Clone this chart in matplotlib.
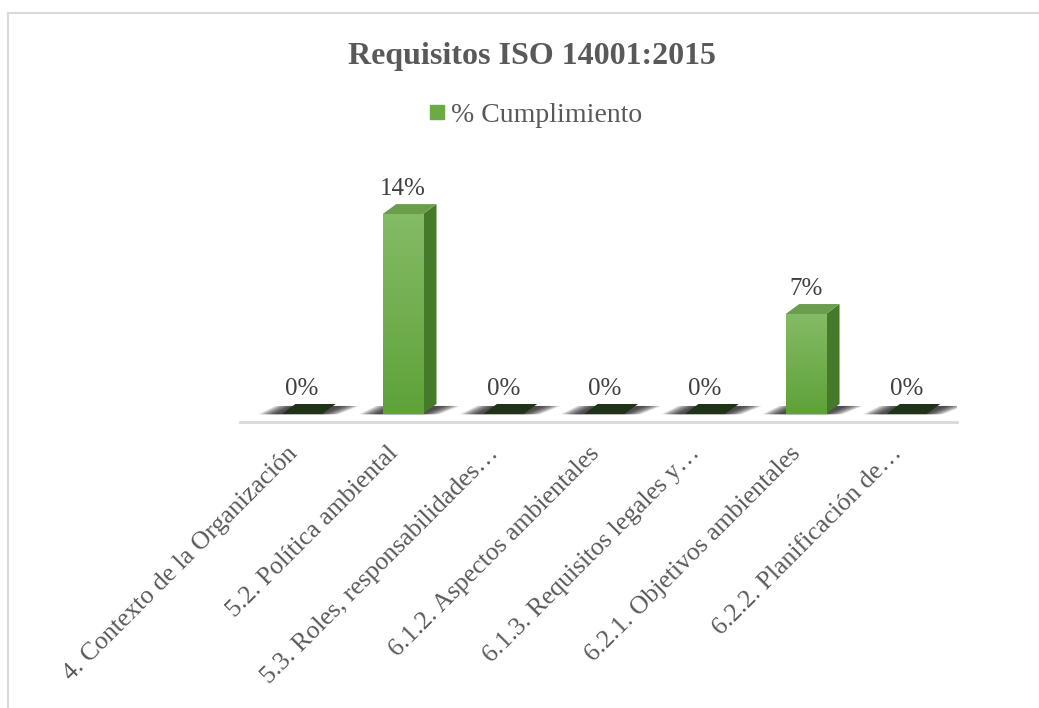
import numpy as np
import matplotlib
matplotlib.use("Agg")
import matplotlib.pyplot as plt
import matplotlib.transforms as mtransforms
from matplotlib.patches import Polygon
from matplotlib.lines import Line2D

# Data
categories = [
    "4. Contexto de la Organización",
    "5.2. Política ambiental",
    "5.3. Roles, responsabilidades…",
    "6.1.2. Aspectos ambientales",
    "6.1.3. Requisitos legales y…",
    "6.2.1. Objetivos ambientales",
    "6.2.2. Planificación de…",
]
values = [0.00, 0.14, 0.00, 0.00, 0.00, 0.07, 0.00]
value_labels = ["0%", "14%", "0%", "0%", "0%", "7%", "0%"]
series_name = "% Cumplimiento"
title = "Requisitos ISO 14001:2015"

plt.rcParams['font.family'] = ['Liberation Serif', 'DejaVu Serif']
text_color = "#595959"
front_top = "#84bb66"
front_bot = "#5fa238"
side_color = "#457a2a"
top_color = "#6a9e4c"
flat_color = "#1f3317"

fig = plt.figure(figsize=(10.39, 7.08), dpi=100)
ax = fig.add_axes([0.231, 0.404, 0.690, 0.342])

x = np.arange(len(categories))
bar_w = 0.40
dx, dy = 0.135, 0.007  # depth offset of the 3D faces (data units)

bars = ax.bar(x, values, width=bar_w, color=front_bot, zorder=3, linewidth=0)

# gradient on the front faces
grad = np.linspace(0, 1, 64).reshape(-1, 1)
cmap = matplotlib.colors.LinearSegmentedColormap.from_list("g", [front_bot, front_top])
for b, v in zip(bars, values):
    if v <= 0:
        continue
    x0, w = b.get_x(), b.get_width()
    im = ax.imshow(grad, cmap=cmap, aspect="auto", origin="lower",
                   extent=(x0, x0 + w, 0, v), zorder=3.5)
    im.set_clip_path(b)

for xi, v in zip(x, values):
    xl, xr = xi - bar_w / 2, xi + bar_w / 2
    # soft shadow on the floor, stacked layers to fake a blur
    for k in range(10):
        s = 0.18 - k * 0.018
        ax.add_patch(Polygon([(xl - s - 0.05, -0.0002), (xr + s - 0.02, -0.0002),
                              (xr + dx + s + 0.05, dy * 0.8), (xl + dx - s - 0.02, dy * 0.8)],
                             closed=True, facecolor="#101010", alpha=0.12, lw=0, zorder=2))
    if v > 0:
        ax.add_patch(Polygon([(xr, 0), (xr + dx, dy), (xr + dx, v + dy), (xr, v)],
                             closed=True, facecolor=side_color, lw=0, zorder=3))
        ax.add_patch(Polygon([(xl, v), (xr, v), (xr + dx, v + dy), (xl + dx, v + dy)],
                             closed=True, facecolor=top_color, lw=0, zorder=3))
    else:
        ax.add_patch(Polygon([(xl, 0), (xr, 0), (xr + dx, dy), (xl + dx, dy)],
                             closed=True, facecolor=flat_color, lw=0, zorder=3))

for xi, v, lab in zip(x, values, value_labels):
    ax.text(xi, v + dy + 0.003, lab, ha="center", va="bottom",
            fontsize=18, color="#404040", zorder=5)

ax.set_xlim(-0.615, 6.5)
ax.set_ylim(-0.0056, 0.164)
ax.set_xticks(x)
ax.set_xticklabels(categories, rotation=45, ha="right", rotation_mode="anchor",
                   fontsize=18.5, color=text_color)
ax.tick_params(axis="x", length=0, pad=13)
shift = mtransforms.ScaledTranslation(-16 / 100, -2 / 100, fig.dpi_scale_trans)
for lbl in ax.get_xticklabels():
    lbl.set_transform(lbl.get_transform() + shift)
ax.set_yticks([])
for side in ["top", "left", "right"]:
    ax.spines[side].set_visible(False)
ax.spines["bottom"].set_color("#d9d9d9")
ax.spines["bottom"].set_linewidth(2)

fig.text(0.512, 0.920, title, ha="center", va="center", fontsize=23,
         fontweight="bold", color=text_color)
handle = Line2D([], [], marker="s", linestyle="none", markersize=10,
                markerfacecolor="#6aab43", markeredgecolor="#6aab43")
fig.legend([handle], [series_name], loc="center", bbox_to_anchor=(0.514, 0.837),
           frameon=False, fontsize=20, handletextpad=0.1, labelcolor=text_color,
           handlelength=0.8)

# chart frame (top and left edges visible)
fig.add_artist(Line2D([0.008, 1.0], [0.982, 0.982], color="#d9d9d9", lw=1.5,
                      transform=fig.transFigure))
fig.add_artist(Line2D([0.008, 0.008], [0.0, 0.982], color="#d9d9d9", lw=1.5,
                      transform=fig.transFigure))

fig.savefig("out.png", dpi=100, facecolor="white")
